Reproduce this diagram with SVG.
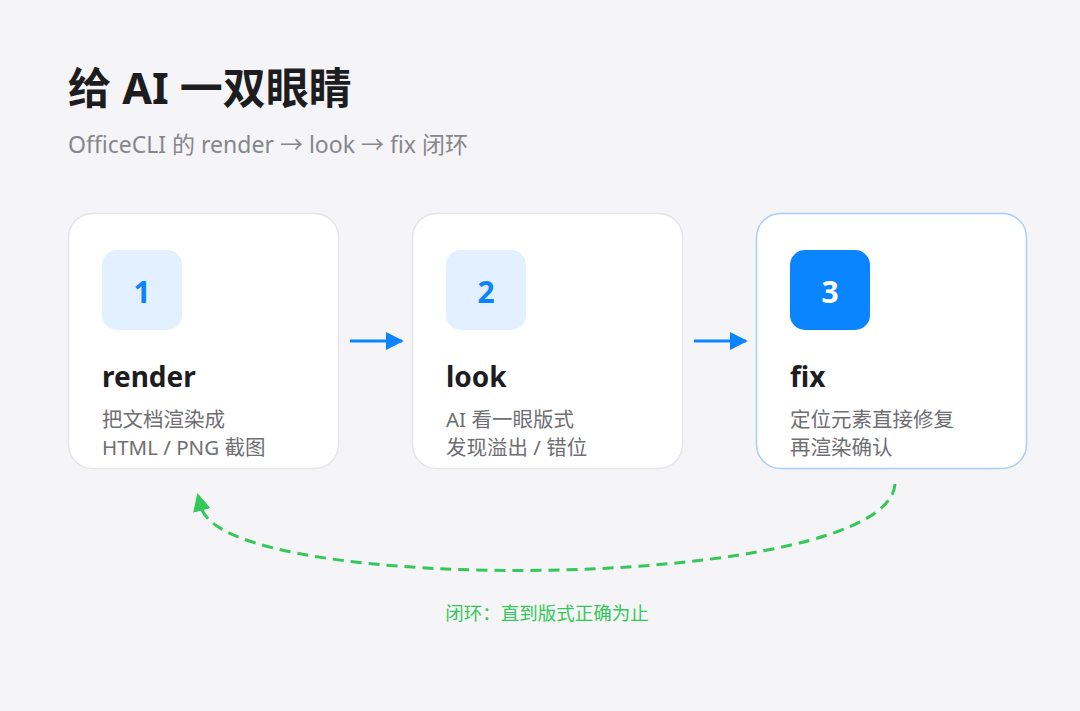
<svg xmlns="http://www.w3.org/2000/svg" width="1080" height="711" viewBox="0 0 1080 711">
<defs>
<style>
text{font-family:"Noto Sans","Noto Sans CJK SC",sans-serif}
.title{font-size:43px;font-weight:700;fill:#1d1d1f}
.sub{font-size:23px;fill:#86868b}
.card{fill:#ffffff;stroke:#e5e5ea;stroke-width:1.5}
.card.active{stroke:#a8d0f8}
.badge{fill:#e3f0ff}
.badge.active{fill:#0a84ff}
.num{font-size:30px;font-weight:700;fill:#0a84ff;text-anchor:middle}
.num.active{fill:#ffffff}
.head{font-size:28px;font-weight:700;fill:#1d1d1f}
.desc{font-size:20.5px;fill:#6e6e73}
.flow{stroke:#0a84ff;stroke-width:3;fill:none}
.loop{stroke:#34c759;stroke-width:3;fill:none;stroke-dasharray:11 7}
.loopText{font-size:18.5px;fill:#34c759;text-anchor:middle}
</style>
<marker id="blueHead" viewBox="0 0 10 10" refX="9" refY="5" markerWidth="6" markerHeight="6" markerUnits="strokeWidth" orient="auto">
<path d="M0,0 L10,5 L0,10 Z" fill="#0a84ff"/>
</marker>
<marker id="greenHead" viewBox="0 0 10 10" refX="2" refY="5" markerWidth="6" markerHeight="6" markerUnits="strokeWidth" orient="auto">
<path d="M0,0 L10,5 L0,10 Z" fill="#34c759"/>
</marker>
</defs>
<rect x="0" y="0" width="1080" height="711" fill="#f5f5f7"/>
<text class="title" x="68" y="104">给 AI 一双眼睛</text>
<text class="sub" x="68" y="153">OfficeCLI 的 render → look → fix 闭环</text>

<g id="node-render">
<rect class="card" x="68.5" y="213.5" width="270" height="255" rx="24"/>
<rect class="badge" x="102" y="250" width="80" height="80" rx="15"/>
<text class="num" x="142" y="303">1</text>
<text class="head" x="102" y="387">render</text>
<text class="desc" x="102" y="427">把文档渲染成</text>
<text class="desc" x="102" y="455">HTML / PNG 截图</text>
</g>

<g id="node-look">
<rect class="card" x="412.5" y="213.5" width="270" height="255" rx="24"/>
<rect class="badge" x="446" y="250" width="80" height="80" rx="15"/>
<text class="num" x="486" y="303">2</text>
<text class="head" x="446" y="387">look</text>
<text class="desc" x="446" y="427">AI 看一眼版式</text>
<text class="desc" x="446" y="455">发现溢出 / 错位</text>
</g>

<g id="node-fix">
<rect class="card active" x="756.5" y="213.5" width="270" height="255" rx="24"/>
<rect class="badge active" x="790" y="250" width="80" height="80" rx="15"/>
<text class="num active" x="830" y="303">3</text>
<text class="head" x="790" y="387">fix</text>
<text class="desc" x="790" y="427">定位元素直接修复</text>
<text class="desc" x="790" y="455">再渲染确认</text>
</g>

<g id="connectors">
<line class="flow" x1="350" y1="341" x2="402" y2="341" marker-end="url(#blueHead)"/>
<line class="flow" x1="694" y1="341" x2="746" y2="341" marker-end="url(#blueHead)"/>
<path class="loop" d="M895,484 C888,592 225,598 201,507" marker-end="url(#greenHead)"/>
<text class="loopText" x="547" y="620">闭环：直到版式正确为止</text>
</g>
</svg>
